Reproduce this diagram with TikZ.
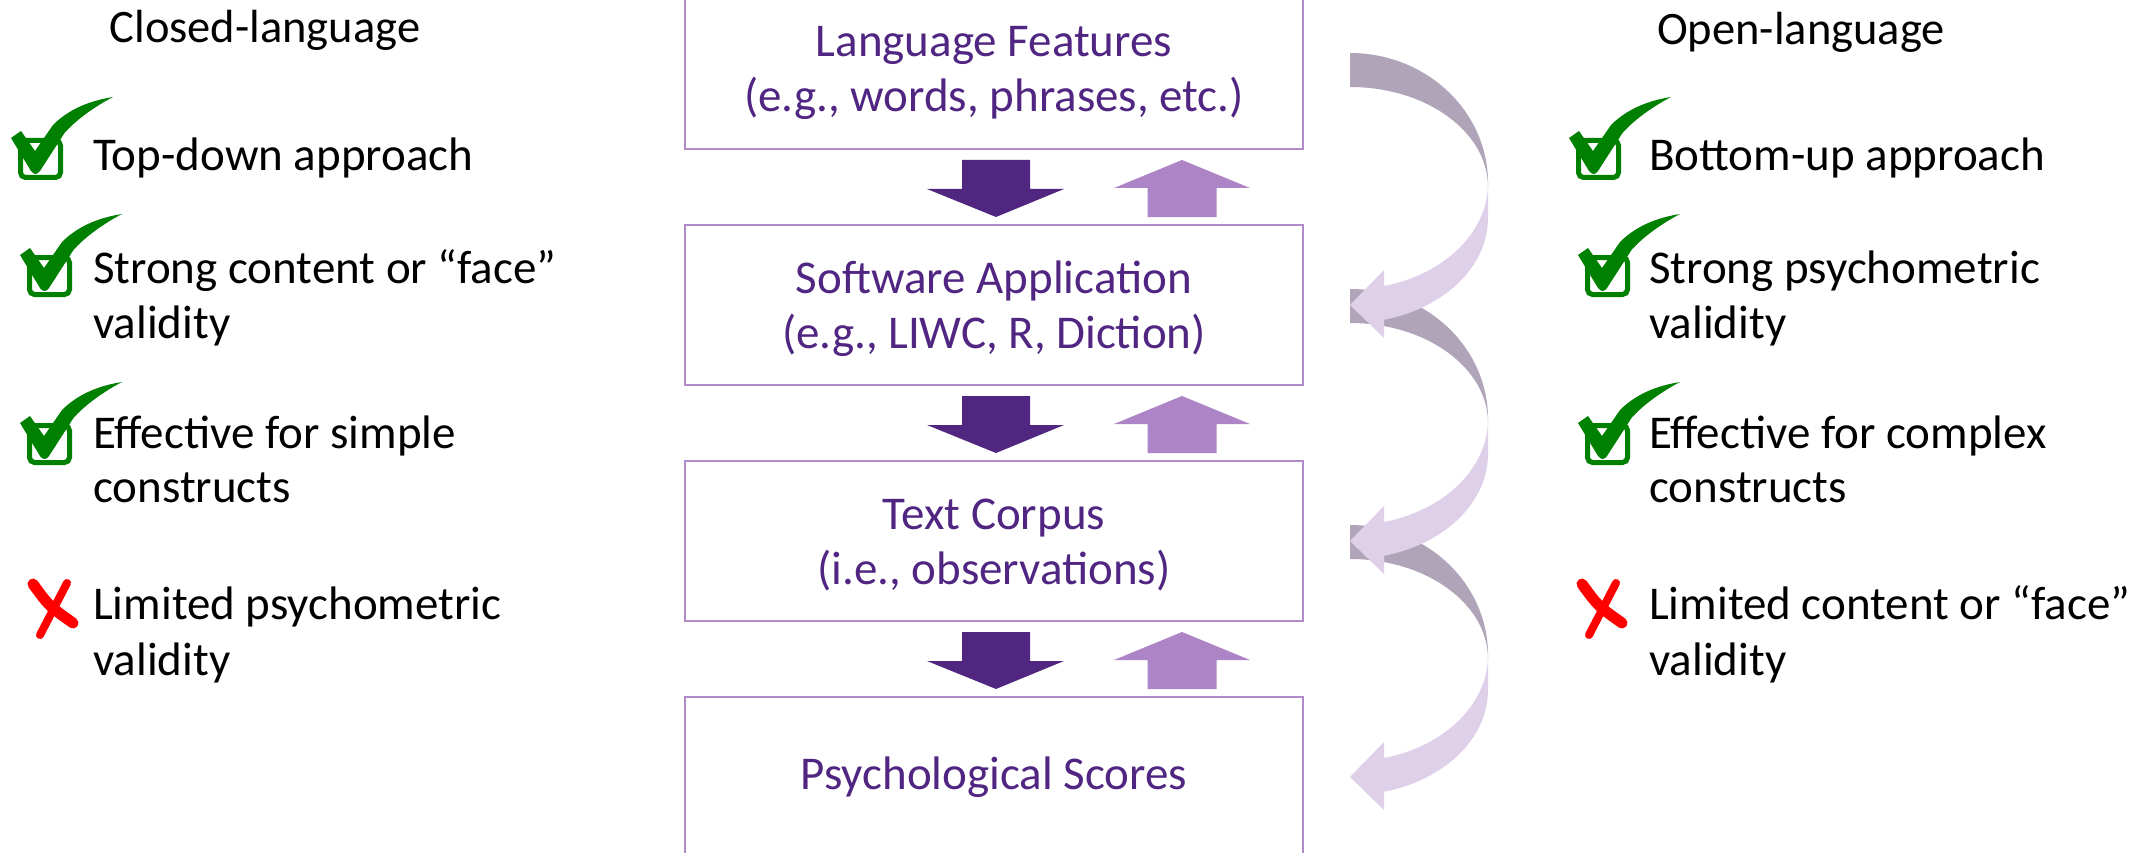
\documentclass[tikz,border=0pt]{standalone}
\usepackage{fontspec}
\setmainfont{Carlito}
\usetikzlibrary{calc}

\definecolor{boxline}{RGB}{176,138,202}
\definecolor{boxtext}{RGB}{80,38,130}
\definecolor{downfill}{RGB}{80,38,128}
\definecolor{upfill}{RGB}{173,133,198}
\definecolor{loopbackc}{RGB}{176,164,185}
\definecolor{loopfrontc}{RGB}{223,208,233}
\definecolor{okgreen}{RGB}{0,128,0}
\definecolor{nored}{RGB}{255,0,0}

\begin{document}
\begin{tikzpicture}[x=1pt,y=-1pt,
  stage/.style={draw=boxline, line width=2.8pt, minimum width=618pt,
    minimum height=160pt, inner sep=0pt, outer sep=0pt, text=boxtext,
    align=center, font=\fontsize{47}{55}\selectfont},
  twoline/.style={text height=97pt, text depth=11pt},
  heading/.style={font=\fontsize{46.5}{55}\selectfont, anchor=base, inner sep=0pt},
  item/.style={font=\fontsize{47}{55}\selectfont, anchor=base west, inner sep=0pt},
  tickbox/.pic={
    \draw[okgreen, line width=5pt, rounded corners=5pt] (2.5,2.5) rectangle (42.5,39.5);
    \fill[okgreen] (-7,0) -- (3,-7) -- (17,13) -- (35,-13)
      .. controls (50,-28) and (70,-37) .. (95,-41)
      .. controls (76,-31) and (58,-18) .. (46.5,-5)
      -- (22,33) .. controls (19,37) and (16,37) .. (13,33) -- cycle;
  },
  crossmark/.pic={
    \draw[nored, line width=11pt, line cap=round] (6,6) .. controls (22,28) .. (46,45);
    \draw[nored, line width=8pt, line cap=round] (40,5) -- (13,57);
  },
  downblk/.pic={
    \fill[downfill] (-34,0) -- (34,0) -- (34,29) -- (68,29) -- (0,57)
      -- (-69,29) -- (-34,29) -- cycle;
  },
  upblk/.pic={
    \fill[upfill] (0,0) -- (68,28) -- (34.5,28) -- (34.5,57) -- (-34.5,57)
      -- (-34.5,28) -- (-68,28) -- cycle;
  },
  loop/.pic={
    % far side of the curved arrow
    \fill[loopbackc] (0,0) arc[start angle=-90, end angle=0, x radius=138, y radius=130]
      -- (138,134) arc[start angle=0, end angle=-90, x radius=138, y radius=100] -- cycle;
    % near side with the head
    \fill[loopfrontc] (138,130) -- (138,165)
      arc[start angle=0, end angle=75.74, x radius=138, y radius=105]
      -- (34,285) -- (0,252) -- (34,217) -- (34,233)
      arc[start angle=75.74, end angle=0, x radius=138, y radius=106] -- cycle;
  }
]
\path[fill=white, use as bounding box] (0,0) rectangle (2146,853);

% pipeline stages
\node[stage, twoline] (b1) at (994,69) {Language Features\\(e.g., words, phrases, etc.)};
\node[stage, twoline] (b2) at (994,305) {Software Application\\(e.g., LIWC, R, Diction)};
\node[stage, twoline] (b3) at (994,541) {Text Corpus\\(i.e., observations)};
\node[stage] (b4) at (994,777) {Psychological Scores};

% block arrows between the stages
\foreach \s in {b1,b2,b3}{
  \pic at ($(\s.south)+(2,11)$) {downblk};
  \pic at ($(\s.south)+(188,11)$) {upblk};
}

% loop-back arrows on the right (lowest first so each head lies on top)
\pic at ($(b3.east)+(47,-16)$) {loop};
\pic at ($(b2.east)+(47,-16)$) {loop};
\pic at ($(b1.east)+(47,-16)$) {loop};

% left column
\node[heading] (tl) at (265,43) {Closed-language};
\pic at (18,138) {tickbox};
\node[item] (l1) at (93,171) {Top-down approach};
\pic at (27,255) {tickbox};
\node[item] (l2a) at (93,283) {Strong content or “face”};
\node[item] (l2b) at (93,338) {validity};
\pic at (27,423) {tickbox};
\node[item] (l3a) at (93,448) {Effective for simple};
\node[item] (l3b) at (93,502) {constructs};
\pic at (27,578) {crossmark};
\node[item] (l4a) at (93,619) {Limited psychometric};
\node[item] (l4b) at (93,675) {validity};

% right column
\node[heading] (tr) at (1801,45) {Open-language};
\pic at (1576,138) {tickbox};
\node[item] (r1) at (1649,171) {Bottom-up approach};
\pic at (1585,255) {tickbox};
\node[item] (r2a) at (1649,283) {Strong psychometric};
\node[item] (r2b) at (1649,338) {validity};
\pic at (1585,423) {tickbox};
\node[item] (r3a) at (1649,448) {Effective for complex};
\node[item] (r3b) at (1649,502) {constructs};
\pic at (1576,578) {crossmark};
\node[item] (r4a) at (1649,619) {Limited content or “face”};
\node[item] (r4b) at (1649,675) {validity};
\end{tikzpicture}
\end{document}
